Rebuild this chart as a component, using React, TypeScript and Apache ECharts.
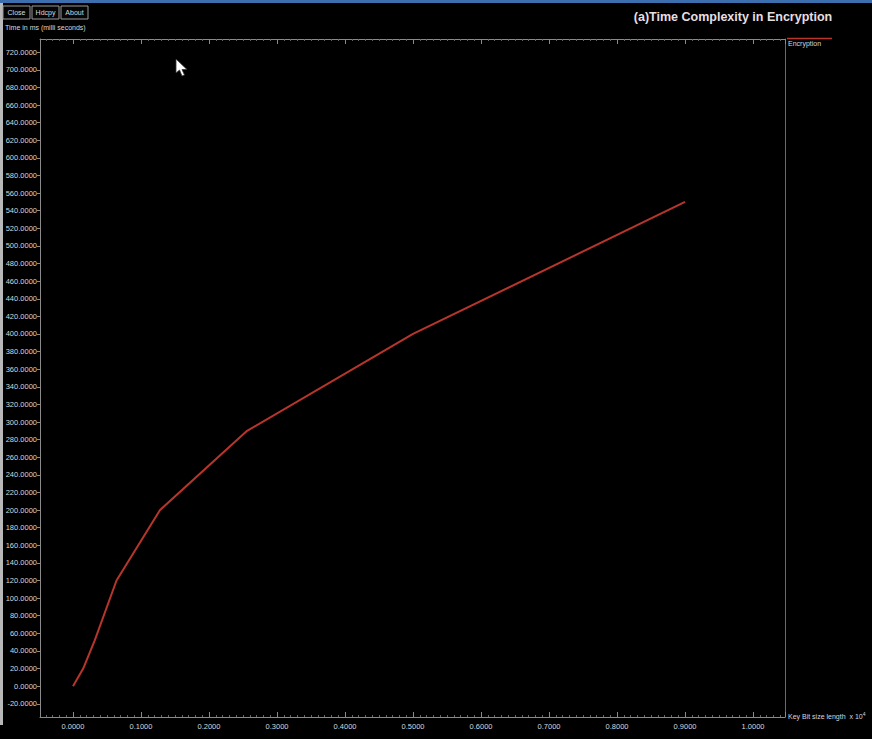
import React, { useEffect, useRef } from "react";
import * as echarts from "echarts";

const keyBitSize = [0, 0.015, 0.032, 0.064, 0.128, 0.256, 0.5, 0.9];
const timeMs = [0, 20, 52, 120, 200, 290, 400, 550];
const seriesName = "Encryption";
const titleText = "(a)Time Complexity in Encryption";
const yAxisTitle = "Time in ms (milli seconds)";
const buttons = ["Close", "Hdcpy", "About"];

const axisColor = "#8a8a8a";
const labelColor = "#d8d8d8";
const font = "Liberation Sans, Arial, sans-serif";

export default function App() {
  const ref = useRef<HTMLDivElement>(null);
  useEffect(() => {
    document.body.style.margin = "0";
    document.body.style.background = "#000";
    const chart = echarts.init(ref.current!, null, { renderer: "svg" });
    const data = keyBitSize.map((x, i) => [x, timeMs[i]]);
    const xCommon = {
      type: "value" as const,
      min: -0.0485,
      max: 1.047,
      splitNumber: 11,
      splitLine: { show: false },
      axisLine: { show: true, onZero: false, lineStyle: { color: axisColor, width: 1 } },
      axisTick: { show: true, inside: true, length: 5, lineStyle: { color: axisColor } },
      minorTick: { show: true, splitNumber: 10, length: 2, lineStyle: { color: "#666" } },
    };
    const yCommon = {
      type: "value" as const,
      min: -35,
      max: 735,
      splitNumber: 38,
      splitLine: { show: false },
      axisLine: { show: true, onZero: false, lineStyle: { color: axisColor, width: 1 } },
    };
    const buttonGraphics: any[] = [];
    const bx = [3, 32, 61];
    buttons.forEach((b, i) => {
      buttonGraphics.push({
        type: "rect",
        shape: { x: bx[i], y: 6, width: 27, height: 13 },
        style: { fill: "#050505", stroke: "#9a9a9a", lineWidth: 1 },
      });
      buttonGraphics.push({
        type: "text",
        x: bx[i] + 13.5,
        y: 12.5,
        style: {
          text: b,
          fill: labelColor,
          font: `7px ${font}`,
          align: "center",
          verticalAlign: "middle",
        },
      });
    });
    chart.setOption({
      animation: false,
      backgroundColor: "#000",
      grid: { left: 40, top: 39, right: 87, bottom: 22, containLabel: false },
      xAxis: [
        {
          ...xCommon,
          position: "bottom",
          axisLabel: {
            show: true,
            color: labelColor,
            fontSize: 7.5,
            fontFamily: font,
            margin: 5,
            showMinLabel: false,
            showMaxLabel: false,
            formatter: (v: number) => v.toFixed(4),
          },
        },
        {
          ...xCommon,
          position: "top",
          axisLabel: { show: false },
        },
      ],
      yAxis: [
        {
          ...yCommon,
          position: "left",
          axisTick: { show: true, inside: false, length: 3, lineStyle: { color: axisColor } },
          axisLabel: {
            show: true,
            color: labelColor,
            fontSize: 7.5,
            fontFamily: font,
            margin: 3,
            showMinLabel: false,
            showMaxLabel: false,
            formatter: (v: number) => (Math.round(v) % 20 === 0 ? v.toFixed(4) : ""),
          },
        },
        {
          ...yCommon,
          position: "right",
          axisLine: { show: true, onZero: false, lineStyle: { color: "#6a6a6a", width: 1 } },
          axisTick: { show: false },
          axisLabel: { show: false },
        },
      ],
      series: [
        {
          name: seriesName,
          type: "line",
          data,
          showSymbol: false,
          symbol: "none",
          lineStyle: { color: "#b8352c", width: 2 },
          itemStyle: { color: "#b8352c" },
        },
      ],
      graphic: [
        { type: "rect", shape: { x: 0, y: 0, width: 872, height: 3 }, style: { fill: "#3d6fae" } },
        { type: "rect", shape: { x: 0, y: 3, width: 3, height: 722 }, style: { fill: "#b8b8b8" } },
        ...buttonGraphics,
        {
          type: "text",
          x: 5,
          y: 27,
          style: { text: yAxisTitle, fill: labelColor, font: `7px ${font}`, verticalAlign: "middle" },
        },
        {
          type: "text",
          x: 733,
          y: 17,
          style: {
            text: titleText,
            fill: "#e6dfe2",
            font: `bold 12.5px ${font}`,
            align: "center",
            verticalAlign: "middle",
          },
        },
        {
          type: "line",
          shape: { x1: 787, y1: 38.5, x2: 832, y2: 38.5 },
          style: { stroke: "#b8352c", lineWidth: 1.5 },
        },
        {
          type: "text",
          x: 788,
          y: 43.5,
          style: { text: seriesName, fill: labelColor, font: `7px ${font}`, verticalAlign: "middle" },
        },
        {
          type: "text",
          x: 788,
          y: 716,
          style: {
            text: "Key Bit size length  x 10{sup|4}",
            fill: labelColor,
            font: `7px ${font}`,
            verticalAlign: "middle",
            rich: { sup: { fontSize: 5, verticalAlign: "top", padding: [0, 0, 5, 0], fill: labelColor } },
          },
        },
        {
          type: "polygon",
          shape: {
            points: [
              [176, 59],
              [176, 73],
              [179.5, 70],
              [182, 76],
              [184.5, 75],
              [182, 69.5],
              [187, 69.5],
            ],
          },
          style: { fill: "#ffffff", stroke: "#333", lineWidth: 0.8 },
        },
      ],
    });
    return () => chart.dispose();
  }, []);
  return (
    <div
      ref={ref}
      style={{ position: "fixed", left: 0, top: 0, width: 872, height: 739, background: "#000" }}
    />
  );
}
